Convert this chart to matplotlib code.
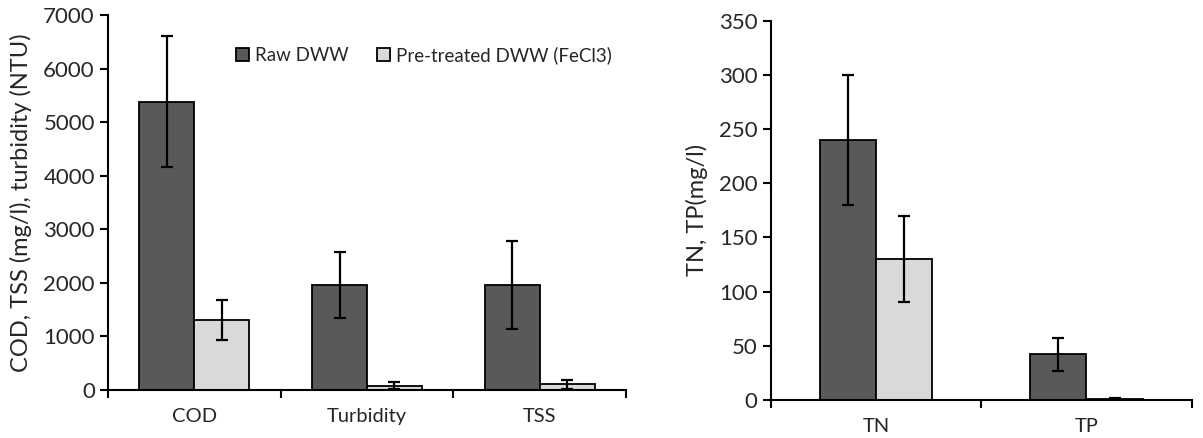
import matplotlib.pyplot as plt
import numpy as np

plt.rcParams['font.family'] = ['Lato', 'DejaVu Sans']

# left panel
cats1 = ['COD', 'Turbidity', 'TSS']
raw1 = [5380, 1960, 1960]
raw1_err = [1220, 610, 830]
pre1 = [1310, 80, 105]
pre1_err = [370, 60, 85]

# right panel
cats2 = ['TN', 'TP']
raw2 = [240, 42]
raw2_err = [60, 15]
pre2 = [130, 1]
pre2_err = [40, 1]

dark = '#595959'
light = '#d9d9d9'
txt = '#262626'

fig = plt.figure(figsize=(12.03, 4.38), dpi=100)
ax1 = fig.add_axes([0.0898, 0.1096, 0.4306, 0.856])
ax2 = fig.add_axes([0.6406, 0.0868, 0.35, 0.866])


def draw(ax, cats, raw, raw_err, pre, pre_err, w, ymax, step, ylabel):
    x = np.arange(len(cats))
    ek = dict(ecolor='black', elinewidth=1.6, capthick=1.6)
    b1 = ax.bar(x - w / 2, raw, w, yerr=raw_err, color=dark, edgecolor='black',
                linewidth=1.3, capsize=4, error_kw=ek, label='Raw DWW', zorder=2)
    b2 = ax.bar(x + w / 2, pre, w, yerr=pre_err, color=light, edgecolor='black',
                linewidth=1.3, capsize=4, error_kw=ek, label='Pre-treated DWW (FeCl3)', zorder=2)
    ax.set_xlim(-0.5, len(cats) - 0.5)
    ax.set_ylim(0, ymax)
    ax.set_yticks(np.arange(0, ymax + 1, step))
    ax.set_xticks(x)
    ax.set_xticklabels(cats)
    ax.set_xticks(np.arange(-0.5, len(cats), 1), minor=True)
    ax.tick_params(axis='x', which='major', length=0, pad=13, labelsize=14.5, labelcolor=txt)
    ax.tick_params(axis='x', which='minor', length=6, width=1.5, direction='out')
    ax.tick_params(axis='y', length=6, width=1.5, direction='out', labelsize=16, labelcolor=txt)
    for s in ['top', 'right']:
        ax.spines[s].set_visible(False)
    for s in ['left', 'bottom']:
        ax.spines[s].set_linewidth(1.5)
    ax.set_ylabel(ylabel, fontsize=17, color=txt, labelpad=8)
    return b1, b2


b1, b2 = draw(ax1, cats1, raw1, raw1_err, pre1, pre1_err, 0.318, 7000, 1000,
              'COD, TSS (mg/l), turbidity (NTU)')
draw(ax2, cats2, raw2, raw2_err, pre2, pre2_err, 0.267, 350, 50, 'TN, TP(mg/l)')

ax1.legend(handles=[b1, b2], loc='center left', bbox_to_anchor=(0.215, 0.893), ncol=2,
           frameon=False, fontsize=13.5, handlelength=0.7, handleheight=0.7,
           handletextpad=0.3, columnspacing=1.5, labelcolor=txt)

fig.savefig('out.png', dpi=100)
